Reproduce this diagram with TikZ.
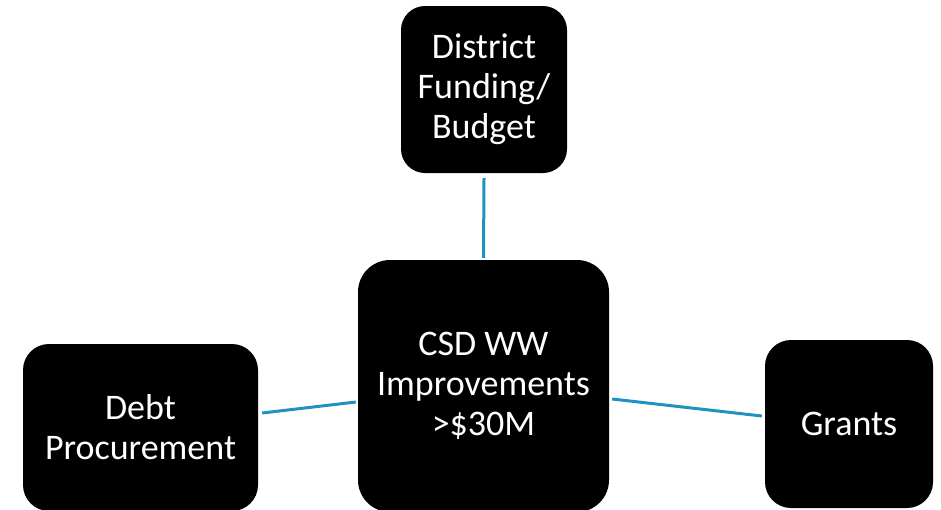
\documentclass[tikz,border=0pt]{standalone}
\usepackage{fontspec}
\setmainfont{Carlito}
\usetikzlibrary{calc}
\definecolor{linkblue}{RGB}{31,146,192}
\tikzset{
  box/.style={fill=black, text=white, inner sep=0pt, align=center,
    font=\fontsize{36}{40}\selectfont},
  link/.style={draw=linkblue, line width=3pt}
}
\begin{document}
\begin{tikzpicture}[x=1pt, y=-1pt]
  \useasboundingbox (0,0) rectangle (941,509);
  % boxes
  \node[box, rounded corners=24pt, minimum width=166pt, minimum height=167pt]
    (top) at (484,89.5) {District\\Funding/\\Budget};
  \node[box, rounded corners=32pt, minimum width=251pt, minimum height=252pt]
    (mid) at (483.5,386) {CSD WW\\Improvements\\>\$30M};
  \node[box, rounded corners=26pt, minimum width=235pt, minimum height=167pt]
    (left) at (140.5,427.5) {Debt\\Procurement};
  \node[box, rounded corners=26pt, minimum width=168pt, minimum height=168pt]
    (right) at (849,424) {Grants};
  % connectors
  \draw[link] ($(top.south)+(0,5)$) -- ($(mid.north)+(0,-2)$);
  \draw[link] ($(left.east)+(4,-14.5)$) -- ($(mid.west)+(-2,16)$);
  \draw[link] ($(mid.east)+(3,13)$) -- ($(right.west)+(-3,-8)$);
\end{tikzpicture}
\end{document}
